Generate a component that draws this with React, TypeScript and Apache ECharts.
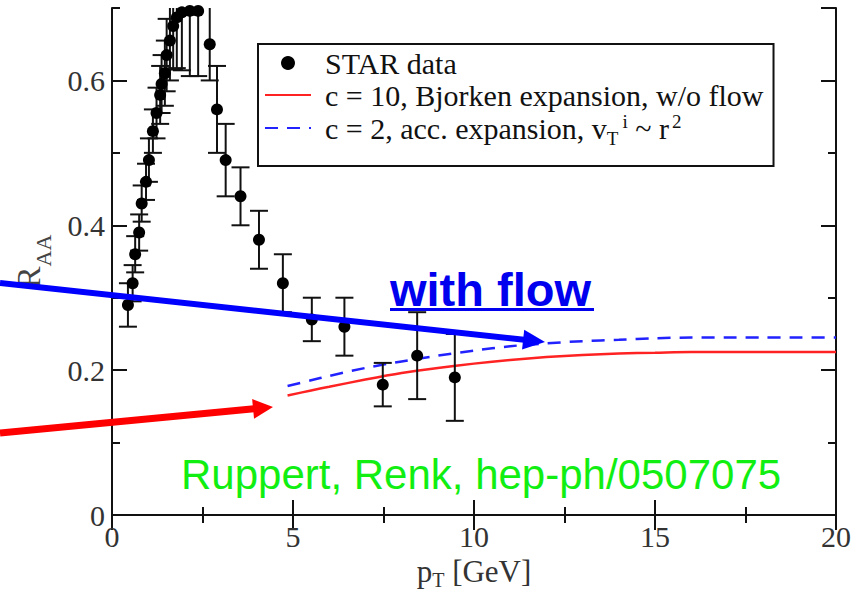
import React, { useEffect, useRef } from "react";
import * as echarts from "echarts";

// STAR data (pT, R_AA, error)
const starX = [0.44, 0.57, 0.64, 0.75, 0.82, 0.94, 1.02, 1.13, 1.23, 1.33, 1.37, 1.46, 1.51, 1.6, 1.69, 1.79, 1.93, 2.15, 2.38, 2.7, 2.9, 3.14, 3.55, 4.06, 4.72, 5.52, 6.42, 7.48, 8.43, 9.47];
const starY = [0.29, 0.32, 0.36, 0.39, 0.43, 0.46, 0.49, 0.53, 0.555, 0.58, 0.595, 0.61, 0.635, 0.655, 0.675, 0.687, 0.694, 0.696, 0.696, 0.65, 0.56, 0.49, 0.44, 0.38, 0.32, 0.27, 0.26, 0.18, 0.22, 0.19];
const starErr = [0.03, 0.025, 0.025, 0.025, 0.025, 0.025, 0.03, 0.03, 0.035, 0.04, 0.04, 0.045, 0.05, 0.055, 0.06, 0.07, 0.08, 0.09, 0.09, 0.05, 0.06, 0.05, 0.04, 0.04, 0.04, 0.03, 0.04, 0.03, 0.06, 0.06];

// Model curves
const curveX = [4.85, 5.5, 6, 7, 8, 9, 10, 11, 12, 13, 14, 15, 16, 17, 18, 19, 20];
const redY = [0.165, 0.172, 0.177, 0.187, 0.196, 0.203, 0.209, 0.214, 0.218, 0.221, 0.223, 0.224, 0.225, 0.225, 0.225, 0.225, 0.225];
const blueY = [0.178, 0.186, 0.192, 0.203, 0.212, 0.22, 0.227, 0.233, 0.237, 0.24, 0.242, 0.244, 0.245, 0.245, 0.245, 0.245, 0.245];

const nameStar = "STAR data";
const nameRed = "c = 10, Bjorken expansion, w/o flow";
const nameBlue = "c = 2, acc. expansion, vT i ~ r2";

const SERIF = "Liberation Serif";
const SANS = "Liberation Sans";

export default function App() {
  const ref = useRef<HTMLDivElement>(null);
  useEffect(() => {
    if (!ref.current) return;
    const chart = echarts.init(ref.current, null, { renderer: "svg" });
    const tickLabel = { fontFamily: SERIF, fontSize: 30, color: "#333" };
    const axLine = { show: true, lineStyle: { color: "#111", width: 2 } };
    const majorTick = { show: true, inside: true, length: 15, lineStyle: { color: "#111", width: 2 } };
    const minorTickY = { show: true, inside: true, length: 8, lineStyle: { color: "#111", width: 2 } };

    const xBase = (pos: string, labels: boolean) => ({
      type: "value", position: pos, min: 0, max: 20, interval: 5,
      axisLine: axLine, axisTick: majorTick,
      minorTick: { show: true, splitNumber: 2, length: 8, lineStyle: { color: "#111", width: 2 } },
      splitLine: { show: false }, minorSplitLine: { show: false },
      axisLabel: labels ? { ...tickLabel, margin: 6 } : { show: false },
    });

    const yMajor = (pos: string, labels: boolean) => ({
      type: "value", position: pos, min: 0, max: 0.7, interval: 0.2,
      axisLine: axLine, axisTick: majorTick, splitLine: { show: false },
      axisLabel: labels
        ? { ...tickLabel, margin: 7, showMaxLabel: false, formatter: (v: number) => (v === 0 ? "0" : v.toFixed(1)) }
        : { show: false },
    });
    const yMinor = (pos: string) => ({
      type: "value", position: pos, min: 0, max: 0.7, interval: 0.1,
      axisLine: { show: false }, axisTick: minorTickY, splitLine: { show: false },
      axisLabel: { show: false },
    });

    const xName = {
      ...xBase("bottom", true),
      name: "{p|p}{s|T}{p| [GeV]}",
      nameLocation: "middle",
      nameGap: 27,
      nameTextStyle: {
        rich: {
          p: { fontFamily: SERIF, fontSize: 31, color: "#333", lineHeight: 34 },
          s: { fontFamily: SERIF, fontSize: 20, color: "#333", lineHeight: 18, verticalAlign: "bottom", padding: [0, 0, -2, 0] },
        },
      },
    };
    const yName = {
      ...yMajor("left", true),
      name: "{r|R}{s|AA}",
      nameLocation: "middle",
      nameRotate: 90,
      nameGap: 64,
      nameTextStyle: {
        rich: {
          r: { fontFamily: SERIF, fontSize: 33, color: "#444", lineHeight: 38 },
          s: { fontFamily: SERIF, fontSize: 22, color: "#444", lineHeight: 20, verticalAlign: "bottom", padding: [0, 0, -6, 0] },
        },
      },
    };

    const errData = starX.map((x, i) => [x, starY[i] - starErr[i], starY[i] + starErr[i]]);

    const makeArrow = (x0: number, y0: number, tx: number, ty: number, hl: number, hw: number, w: number, color: string) => {
      const dx = tx - x0, dy = ty - y0, L = Math.hypot(dx, dy);
      const ux = dx / L, uy = dy / L, nx = -uy, ny = ux;
      const bx = tx - hl * ux, by = ty - hl * uy;
      return [
        { type: "line", z: 50, shape: { x1: x0, y1: y0, x2: bx + ux, y2: by + uy }, style: { stroke: color, lineWidth: w } },
        { type: "polygon", z: 50, shape: { points: [[tx, ty], [bx + hw * nx, by + hw * ny], [bx - hw * nx, by - hw * ny]] }, style: { fill: color } },
      ];
    };
    const blueArrow = makeArrow(0, 283, 545, 342, 22, 10, 6, "#0000ff");
    const redArrow = makeArrow(0, 433, 273, 407, 20, 10, 7, "#ff0000");

    const legendRich = {
      f: { fontFamily: SERIF, fontSize: 30, color: "#111", lineHeight: 32, padding: [0, 0, 0, 9] },
      t: { fontFamily: SERIF, fontSize: 30, color: "#111", lineHeight: 32 },
      sub: { fontFamily: SERIF, fontSize: 19, color: "#111", lineHeight: 16, verticalAlign: "bottom", padding: [0, 1, -4, 0] },
      sup: { fontFamily: SERIF, fontSize: 19, color: "#111", lineHeight: 18, verticalAlign: "top", padding: [0, 0, 0, 3] },
    };

    chart.setOption({
      animation: false,
      backgroundColor: "#fff",
      grid: { left: 112, top: 8, right: 27, bottom: 75, containLabel: false, outerBoundsMode: "none" },
      xAxis: [xName, xBase("top", false)],
      yAxis: [yName, yMinor("left"), yMajor("right", false), yMinor("right")],
      legend: {
        show: true,
        orient: "vertical",
        left: 258,
        top: 44,
        padding: [4, 10, 18, 6],
        itemGap: 2,
        itemWidth: 46,
        itemHeight: 14,
        borderColor: "#111",
        borderWidth: 2,
        backgroundColor: "#fff",
        data: [
          { name: nameStar, icon: "circle" },
          { name: nameRed, itemStyle: { opacity: 0 } },
          { name: nameBlue, itemStyle: { opacity: 0 } },
        ],
        formatter: (n: string) => {
          if (n === nameStar) return "{f|STAR data}";
          if (n === nameRed) return "{f|c = 10, Bjorken expansion, w/o flow}";
          return "{f|c = 2, acc. expansion, v}{sub|T}{sup|i}{t| ~ r}{sup|2}";
        },
        textStyle: { rich: legendRich },
      },
      series: [
        {
          name: nameRed,
          type: "line",
          xAxisIndex: 0, yAxisIndex: 0,
          data: curveX.map((x, i) => [x, redY[i]]),
          symbol: "none",
          smooth: 0.3,
          lineStyle: { color: "#ff2222", width: 2.5 },
          itemStyle: { color: "#ff2222" },
          z: 3,
        },
        {
          name: nameBlue,
          type: "line",
          xAxisIndex: 0, yAxisIndex: 0,
          data: curveX.map((x, i) => [x, blueY[i]]),
          symbol: "none",
          smooth: 0.3,
          lineStyle: { color: "#2222ff", width: 2.5, type: [13, 9] },
          itemStyle: { color: "#2222ff" },
          z: 3,
        },
        {
          name: "errors",
          type: "custom",
          xAxisIndex: 0, yAxisIndex: 0,
          data: errData,
          encode: { x: 0, y: [1, 2] },
          z: 4,
          renderItem: (params: any, api: any) => {
            const x = api.value(0);
            const pLo = api.coord([x, api.value(1)]);
            const pHi = api.coord([x, api.value(2)]);
            const top = params.coordSys.y;
            const yHi = Math.max(pHi[1], top);
            const st = { stroke: "#111", lineWidth: 2 };
            const cw = 9;
            const ch: any[] = [
              { type: "line", shape: { x1: pLo[0], y1: pLo[1], x2: pLo[0], y2: yHi }, style: st },
              { type: "line", shape: { x1: pLo[0] - cw, y1: pLo[1], x2: pLo[0] + cw, y2: pLo[1] }, style: st },
            ];
            if (pHi[1] >= top) ch.push({ type: "line", shape: { x1: pHi[0] - cw, y1: pHi[1], x2: pHi[0] + cw, y2: pHi[1] }, style: st });
            return { type: "group", children: ch };
          },
        },
        {
          name: nameStar,
          type: "scatter",
          xAxisIndex: 0, yAxisIndex: 0,
          data: starX.map((x, i) => [x, starY[i]]),
          symbol: "circle",
          symbolSize: 12,
          itemStyle: { color: "#000", opacity: 1 },
          z: 5,
        },
      ],
      graphic: [
        ...blueArrow,
        ...redArrow,
        {
          type: "text", z: 60, x: 390, y: 289,
          style: { text: "with flow", font: `bold 47px "${SANS}"`, fill: "#0000ee", verticalAlign: "middle", align: "left" },
        },
        { type: "rect", z: 60, shape: { x: 390, y: 308, width: 204, height: 3 }, style: { fill: "#0000ee" } },
        {
          type: "text", z: 60, x: 181, y: 474,
          style: { text: "Ruppert, Renk, hep-ph/0507075", font: `42px "${SANS}"`, fill: "#11ee11", verticalAlign: "middle", align: "left" },
        },
      ],
    });
    return () => chart.dispose();
  }, []);
  return <div ref={ref} style={{ position: "absolute", left: 0, top: 0, width: 863, height: 590, background: "#fff" }} />;
}
